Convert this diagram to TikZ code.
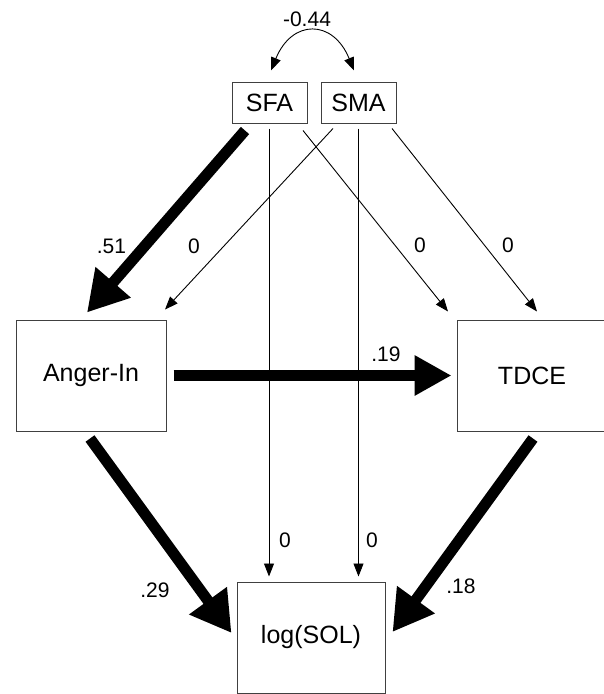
\documentclass[tikz,border=0pt]{standalone}
\usepackage{fontspec}
\setmainfont{Liberation Sans}
\usetikzlibrary{arrows.meta}
\begin{document}
\begin{tikzpicture}[x=1pt,y=-1pt,
  box/.style={draw=black!75, line width=1pt, inner sep=0pt, font=\fontsize{25}{29}\selectfont},
  lab/.style={inner sep=0pt, font=\fontsize{21}{25}\selectfont},
  thinarr/.style={line width=0.9pt, -{Triangle[length=13pt,width=10pt]}},
  bentarr/.style={line width=0.9pt, {Triangle[length=13pt,width=10pt]}-{Triangle[length=13pt,width=10pt]}},
  thickarr/.style={line width=11pt, -{Triangle[length=40pt,width=44pt]}},
  harr/.style={line width=11pt, -{Triangle[length=37pt,width=38pt]}}]
\useasboundingbox (0,0) rectangle (604,694);
% nodes
\node[box, minimum width=75pt, minimum height=41pt] (SFA) at (269.5,102.5) {SFA};
\node[box, minimum width=75pt, minimum height=41pt] (SMA) at (358.5,102.5) {SMA};
\node[box, minimum width=150pt, minimum height=111pt] (AI) at (91,375.5) {Anger-In};
\node[box, minimum width=150pt, minimum height=111pt] (TD) at (532,375.5) {TDCE};
\node[box, minimum width=148pt, minimum height=111pt] (LS) at (311,637.5) {log(SOL)};
% covariance
\draw[bentarr] ([xshift=1.5pt,yshift=11pt]SFA.north) .. controls (292,19) and (333,19) .. ([xshift=-4.5pt,yshift=11pt]SMA.north);
\node[lab] (lcov) at (307,19) {-0.44};
% paths from SFA / SMA
\draw[thickarr] ([xshift=-24.5pt,yshift=-7pt]SFA.south) -- ([xshift=-4pt,yshift=7pt]AI.north);
\draw[thinarr] ([xshift=-25.5pt,yshift=-5pt]SMA.south) -- ([xshift=74pt,yshift=10pt]AI.north);
\draw[thinarr] ([xshift=33.5pt,yshift=-7pt]SFA.south) -- ([xshift=-84pt,yshift=8pt]TD.north);
\draw[thinarr] ([xshift=33.5pt,yshift=-5pt]SMA.south) -- ([xshift=5pt,yshift=8pt]TD.north);
\draw[thinarr] ([xshift=-0.5pt,yshift=-5pt]SFA.south) -- ([xshift=-42pt,yshift=5pt]LS.north);
\draw[thinarr] ([yshift=-5pt]SMA.south) -- ([xshift=47.5pt,yshift=5pt]LS.north);
% main paths
\draw[harr] ([xshift=7pt]AI.east) -- ([xshift=-5pt]TD.west);
\draw[thickarr] ([xshift=-1pt,yshift=-7pt]AI.south) -- ([xshift=-5pt,yshift=4.5pt]LS.west);
\draw[thickarr] ([xshift=1pt,yshift=-7pt]TD.south) -- ([xshift=7pt,yshift=5.5pt]LS.east);
% labels
\node[lab] (l51) at (111.5,246) {.51};
\node[lab] (l0a) at (194,246) {0};
\node[lab] (l0b) at (420,245) {0};
\node[lab] (l0c) at (508,245) {0};
\node[lab] (l19) at (386,354) {.19};
\node[lab] (l0d) at (285,540) {0};
\node[lab] (l0e) at (372,540) {0};
\node[lab] (l29) at (155,590) {.29};
\node[lab] (l18) at (461,586) {.18};
\end{tikzpicture}
\end{document}
